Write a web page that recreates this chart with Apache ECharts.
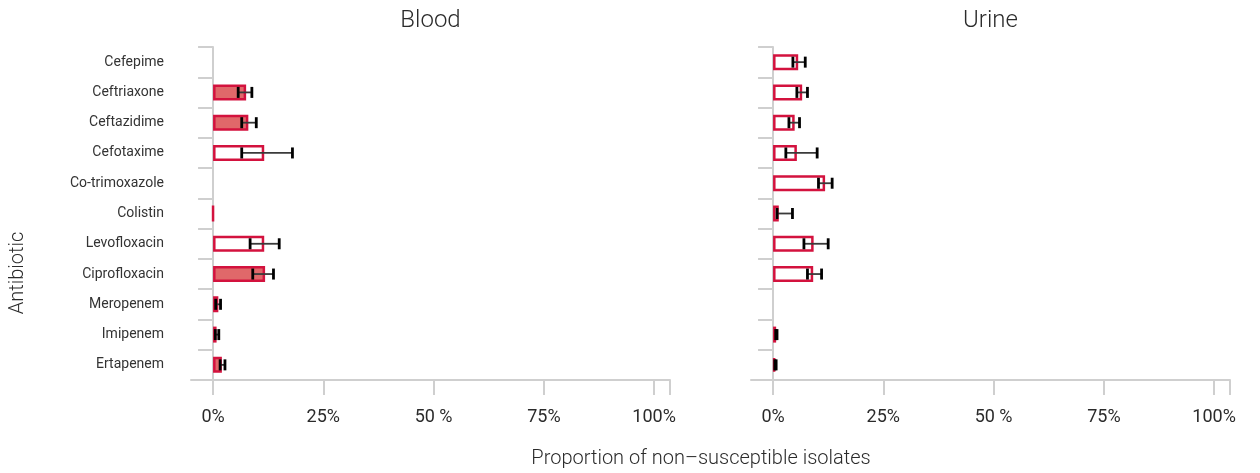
<!DOCTYPE html>
<html>
<head>
<meta charset="utf-8">
<script src="https://cdn.jsdelivr.net/npm/echarts@6/dist/echarts.min.js"></script>
<style>
html,body{margin:0;padding:0;background:#fff;}
#chart{width:1260px;height:473px;}
</style>
</head>
<body>
<div id="chart"></div>
<script>
// ---- data ----
const categories = ['Cefepime','Ceftriaxone','Ceftazidime','Cefotaxime','Co-trimoxazole','Colistin','Levofloxacin','Ciprofloxacin','Meropenem','Imipenem','Ertapenem'];
const panelTitles = ['Blood', 'Urine'];

const bloodValues = [null, 7.5, 8.0, 11.6, null, 0, 11.6, 11.8, 1.2, 0.8, 2.0];
const bloodLow    = [null, 5.7, 6.5, 6.5, null, null, 8.4, 9.0, 0.6, 0.5, 1.6];
const bloodHigh   = [null, 8.8, 9.8, 18.0, null, null, 15.0, 13.7, 1.7, 1.3, 2.7];
const bloodFilled = [false, true, true, false, false, false, false, true, true, true, true];

const urineValues = [5.7, 6.6, 4.9, 5.4, 11.8, 1.3, 9.2, 9.1, null, 0.7, 0.5];
const urineLow    = [4.5, 5.4, 3.6, 2.9, 10.3, 0.9, 7.0, 7.8, null, 0.6, 0.4];
const urineHigh   = [7.3, 7.8, 6.0, 10.0, 13.4, 4.4, 12.5, 11.0, null, 0.9, 0.7];
const urineFilled = [false, false, false, false, false, false, false, false, false, false, false];

const xTickValues = [0, 25, 50, 75, 100];
const xTickLabels = ['0%', '25%', '50 %', '75%', '100%'];
const xMin = -5, xMax = 103.6;

const xTitle = 'Proportion of non\u2013susceptible isolates';
const yTitle = 'Antibiotic';

// ---- styles ----
const FONT = 'Roboto';
const BORDER = '#d3123e';
const FILL = '#e0686a';
const AXIS = '#cfcfcf';
const TEXT = '#2b2b2b';

function barData(values, filled) {
  return values.map((v, i) => {
    if (v === null) return '-';
    return {
      value: v,
      itemStyle: { color: filled[i] ? FILL : '#ffffff', borderColor: BORDER, borderWidth: 2.5 }
    };
  });
}
function errData(low, high) {
  const out = [];
  low.forEach((l, i) => { if (l !== null) out.push([i, l, high[i]]); });
  return out;
}
function renderErr(params, api) {
  const cat = api.value(0);
  const p1 = api.coord([api.value(1), cat]);
  const p2 = api.coord([api.value(2), cat]);
  const h = 5.5;
  return {
    type: 'group',
    children: [
      { type: 'line', shape: { x1: p1[0], y1: p1[1], x2: p2[0], y2: p2[1] }, style: { stroke: '#3a3a3a', lineWidth: 1.8 } },
      { type: 'line', shape: { x1: p1[0], y1: p1[1] - h, x2: p1[0], y2: p1[1] + h }, style: { stroke: '#000', lineWidth: 2.8 } },
      { type: 'line', shape: { x1: p2[0], y1: p2[1] - h, x2: p2[0], y2: p2[1] + h }, style: { stroke: '#000', lineWidth: 2.8 } }
    ]
  };
}

function xAxisCfg(idx) {
  return {
    type: 'value', gridIndex: idx, min: xMin, max: xMax,
    axisLine: { show: true, lineStyle: { color: AXIS, width: 2 } },
    axisTick: { show: true, length: 15, lineStyle: { color: AXIS, width: 2 }, customValues: xTickValues.concat([xMax]) },
    axisLabel: {
      show: true, margin: 28, fontFamily: FONT, fontSize: 18, color: TEXT,
      customValues: xTickValues,
      formatter: v => xTickLabels[xTickValues.indexOf(v)]
    },
    splitLine: { show: false }
  };
}
function yAxisCfg(idx, showLabels) {
  return {
    type: 'category', gridIndex: idx, data: categories, inverse: true,
    axisLine: { show: true, lineStyle: { color: AXIS, width: 2 } },
    axisTick: { show: true, length: 15, lineStyle: { color: AXIS, width: 2 } },
    axisLabel: { show: showLabels, margin: 27, fontFamily: FONT, fontSize: 14, color: '#333333' },
    splitLine: { show: false }
  };
}

const chart = echarts.init(document.getElementById('chart'), null, { renderer: 'canvas' });
chart.setOption({
  animation: false,
  backgroundColor: '#ffffff',
  grid: [
    { left: 191, right: 590, top: 47, bottom: 93 },
    { left: 751, right: 30, top: 47, bottom: 93 }
  ],
  xAxis: [xAxisCfg(0), xAxisCfg(1)],
  yAxis: [yAxisCfg(0, true), yAxisCfg(1, false)],
  series: [
    { type: 'bar', xAxisIndex: 0, yAxisIndex: 0, barWidth: 16, data: barData(bloodValues, bloodFilled) },
    { type: 'bar', xAxisIndex: 1, yAxisIndex: 1, barWidth: 16, data: barData(urineValues, urineFilled) },
    { type: 'custom', xAxisIndex: 0, yAxisIndex: 0, renderItem: renderErr, encode: { y: 0, x: [1, 2] }, data: errData(bloodLow, bloodHigh), z: 5 },
    { type: 'custom', xAxisIndex: 1, yAxisIndex: 1, renderItem: renderErr, encode: { y: 0, x: [1, 2] }, data: errData(urineLow, urineHigh), z: 5 }
  ],
  graphic: [
    { type: 'text', x: 430.5, y: 21, style: { text: panelTitles[0], font: '300 24px ' + FONT, fill: TEXT, textAlign: 'center', textVerticalAlign: 'middle' } },
    { type: 'text', x: 990.5, y: 21, style: { text: panelTitles[1], font: '300 24px ' + FONT, fill: TEXT, textAlign: 'center', textVerticalAlign: 'middle' } },
    { type: 'text', x: 701, y: 459, style: { text: xTitle, font: '300 20px ' + FONT, fill: TEXT, textAlign: 'center', textVerticalAlign: 'middle' } },
    { type: 'text', x: 18, y: 273, rotation: Math.PI / 2, style: { text: yTitle, font: '300 20px ' + FONT, fill: TEXT, textAlign: 'center', textVerticalAlign: 'middle' } }
  ]
});
</script>
</body>
</html>
